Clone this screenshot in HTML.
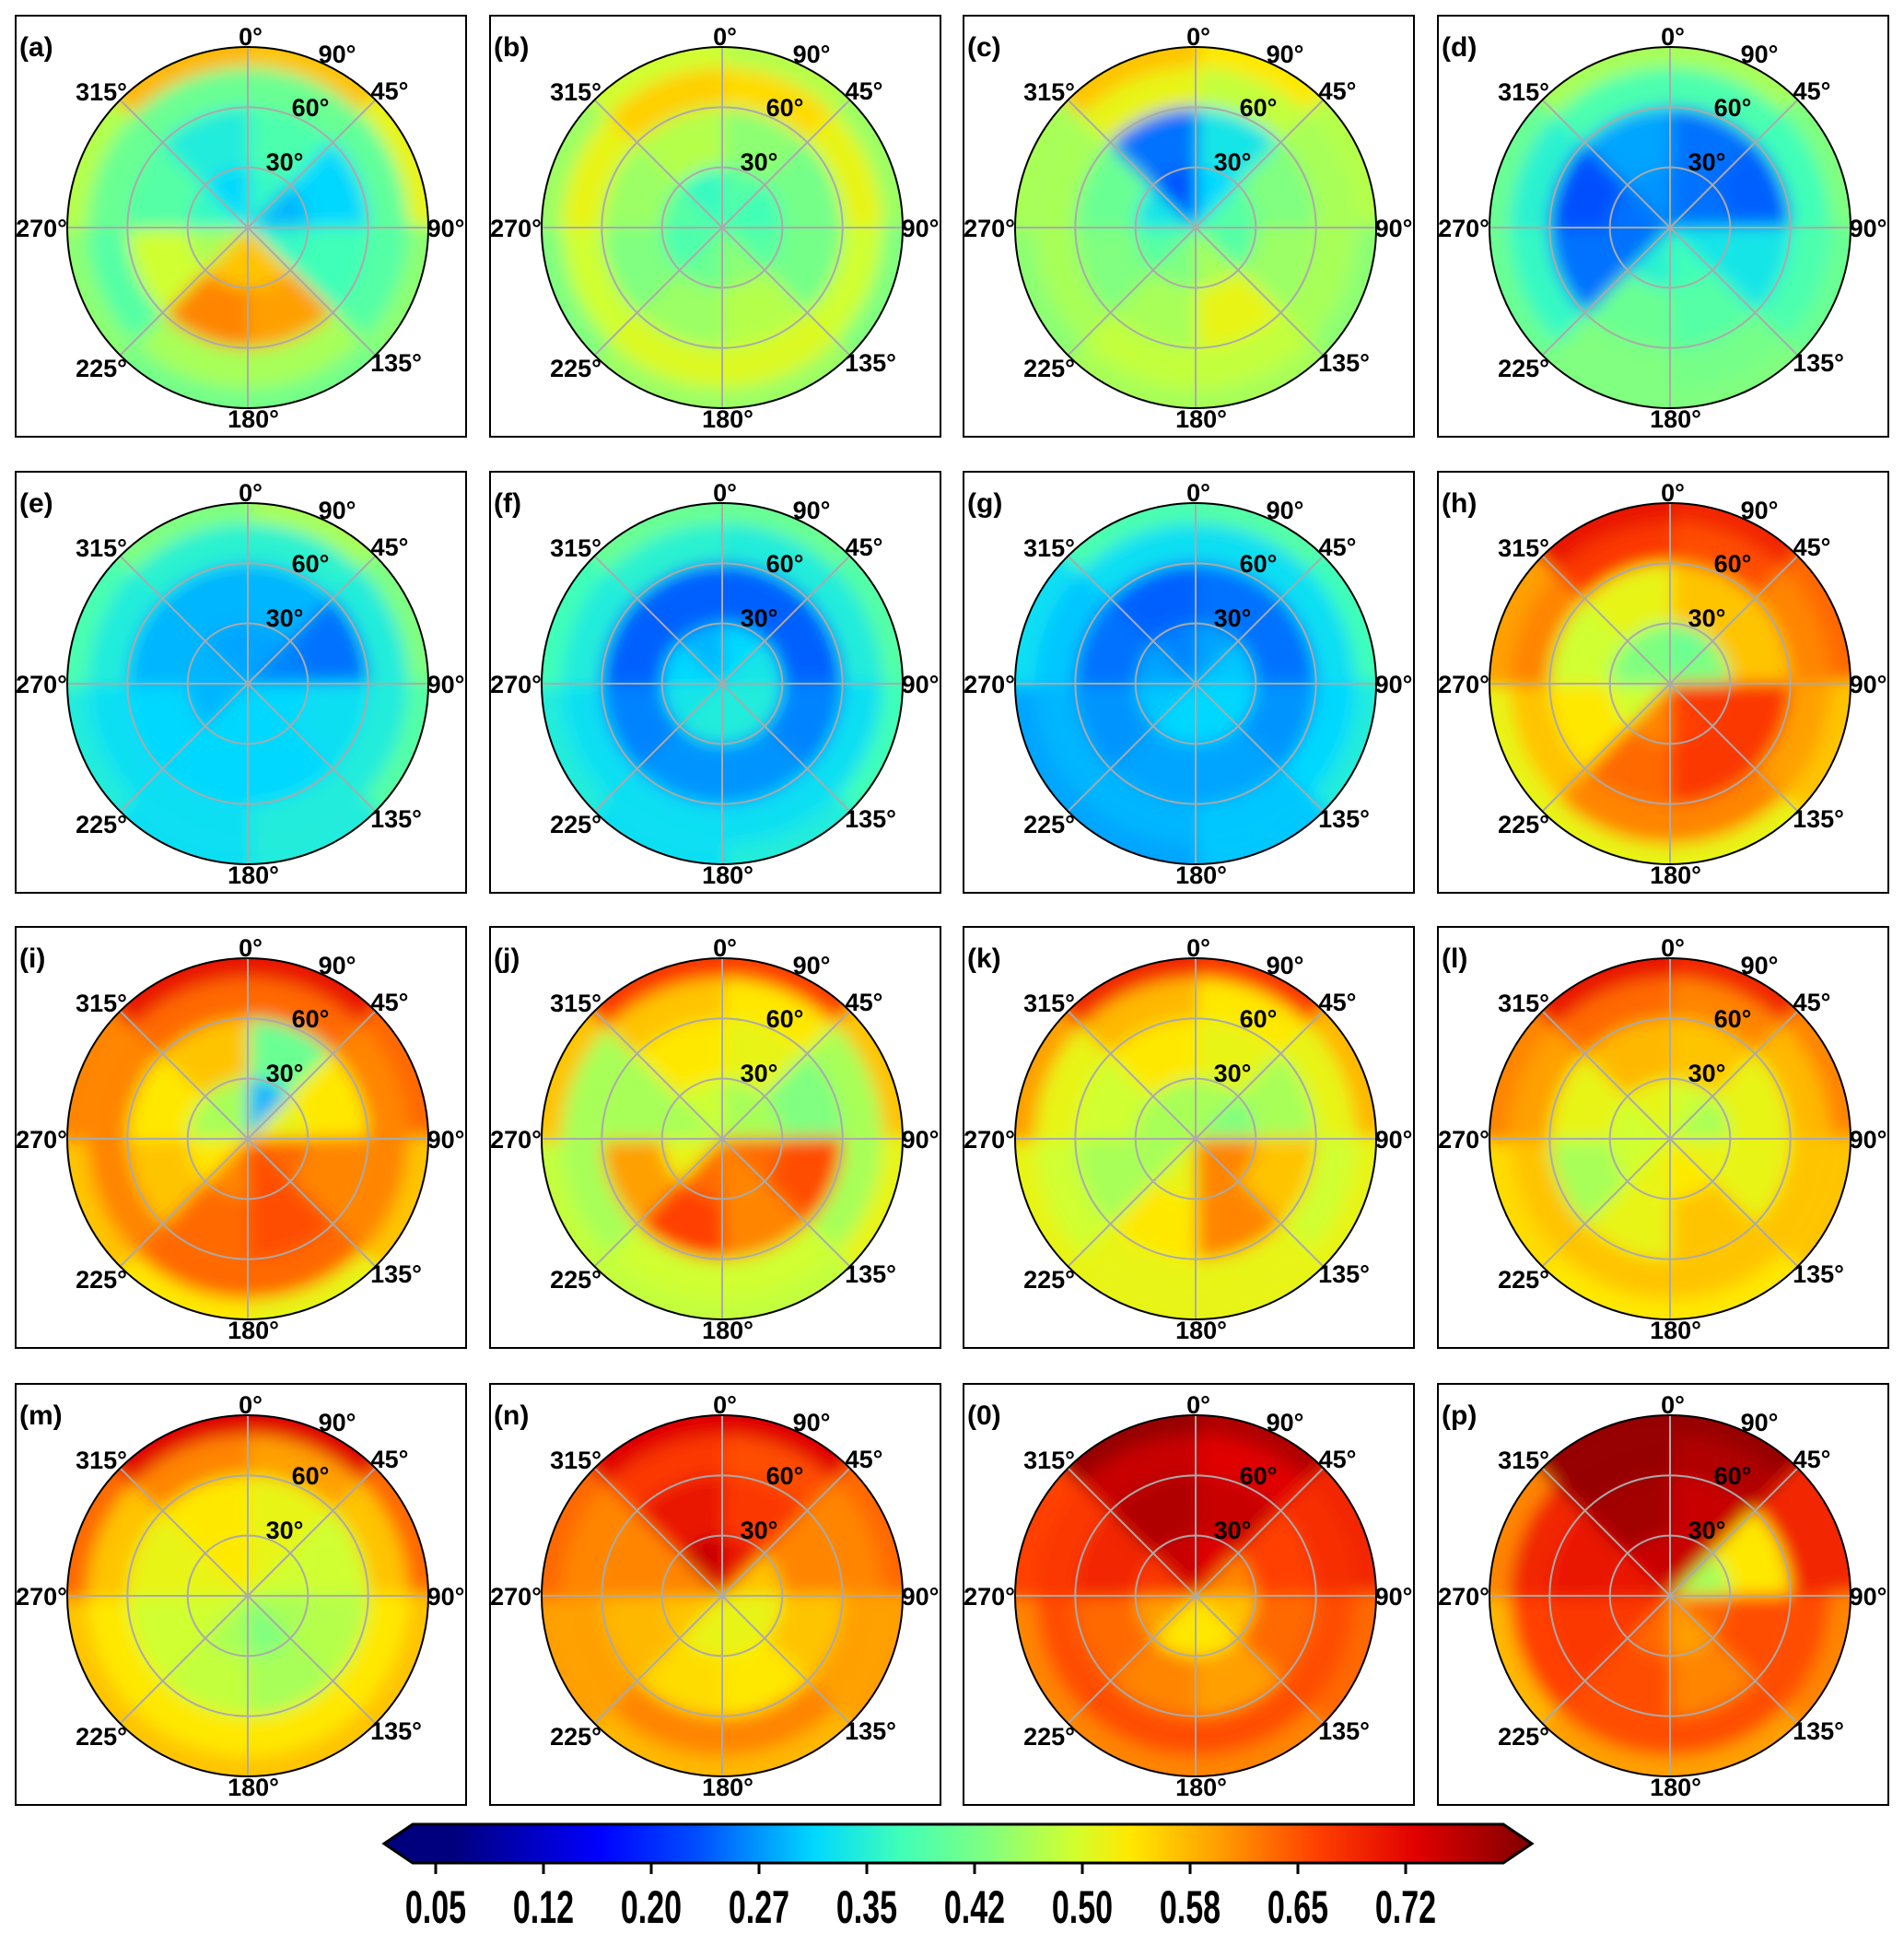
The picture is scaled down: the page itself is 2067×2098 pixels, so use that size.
<!DOCTYPE html>
<html><head><meta charset="utf-8"><style>
html,body{margin:0;padding:0;background:#fff}
svg{display:block}
text{font-family:"Liberation Sans",sans-serif;font-weight:bold;fill:#000}
</style></head><body>
<svg id="fig" width="2067" height="2098" viewBox="0 0 2067 2098" xmlns="http://www.w3.org/2000/svg">
<defs><filter id="bl" x="-20%" y="-20%" width="140%" height="140%"><feGaussianBlur stdDeviation="9"/></filter>
<linearGradient id="cbg" x1="0" x2="1" y1="0" y2="0"></linearGradient></defs>
<g id="panels"></g>
<g id="cbar"></g>
</svg>
<script>
// panel labels
const panelLabels = ['a','b','c','d','e','f','g','h','i','j','k','l','m','n','0','p'];
// ring boundaries (elevation degrees)
const ringEdges = [0, 30, 60, 80, 90];
// values[panel][ring][sector] sectors: 0-45,45-90,90-135,135-180,180-225,225-270,270-315,315-360
const vA = [[0.35,0.28,0.35,0.55,0.55,0.45,0.35,0.3],[0.37,0.3,0.36,0.58,0.6,0.48,0.38,0.33],[0.4,0.39,0.38,0.45,0.45,0.38,0.4,0.4],[0.55,0.5,0.43,0.41,0.41,0.43,0.46,0.56]];
const vB = [[0.38,0.36,0.38,0.43,0.4,0.37,0.38,0.35],[0.43,0.41,0.41,0.46,0.44,0.42,0.44,0.46],[0.53,0.5,0.48,0.49,0.49,0.48,0.5,0.54],[0.46,0.44,0.42,0.44,0.44,0.42,0.44,0.48]];
const vC = [[0.3,0.38,0.38,0.45,0.42,0.38,0.32,0.22],[0.32,0.42,0.44,0.5,0.45,0.42,0.4,0.24],[0.47,0.45,0.45,0.47,0.47,0.45,0.45,0.5],[0.52,0.46,0.43,0.45,0.45,0.43,0.45,0.55]];
const vD = [[0.24,0.24,0.32,0.36,0.34,0.24,0.24,0.26],[0.24,0.23,0.32,0.38,0.4,0.24,0.22,0.27],[0.37,0.36,0.37,0.41,0.42,0.35,0.34,0.37],[0.45,0.42,0.4,0.42,0.42,0.4,0.4,0.45]];
const vE = [[0.27,0.25,0.3,0.3,0.3,0.28,0.28,0.27],[0.28,0.24,0.31,0.3,0.3,0.3,0.28,0.28],[0.34,0.33,0.33,0.33,0.31,0.31,0.33,0.34],[0.45,0.42,0.38,0.33,0.31,0.33,0.37,0.42]];
const vF = [[0.3,0.32,0.33,0.33,0.33,0.32,0.3,0.28],[0.23,0.23,0.25,0.26,0.26,0.25,0.23,0.23],[0.33,0.33,0.31,0.31,0.31,0.31,0.33,0.34],[0.4,0.38,0.36,0.33,0.31,0.33,0.36,0.4]];
const vG = [[0.27,0.29,0.3,0.3,0.3,0.29,0.27,0.25],[0.24,0.24,0.26,0.27,0.27,0.26,0.24,0.23],[0.31,0.31,0.3,0.29,0.28,0.28,0.29,0.31],[0.38,0.36,0.33,0.29,0.27,0.27,0.31,0.37]];
const vH = [[0.4,0.42,0.66,0.65,0.6,0.48,0.42,0.42],[0.55,0.55,0.66,0.66,0.62,0.52,0.48,0.5],[0.64,0.6,0.58,0.6,0.6,0.55,0.6,0.66],[0.68,0.62,0.55,0.5,0.5,0.5,0.58,0.7]];
const vI = [[0.28,0.5,0.62,0.64,0.6,0.52,0.45,0.45],[0.4,0.52,0.6,0.64,0.62,0.55,0.52,0.55],[0.62,0.6,0.6,0.62,0.62,0.6,0.6,0.62],[0.7,0.62,0.55,0.5,0.52,0.55,0.6,0.7]];
const vJ = [[0.45,0.45,0.62,0.6,0.62,0.5,0.45,0.48],[0.5,0.42,0.64,0.6,0.65,0.58,0.45,0.52],[0.52,0.45,0.45,0.48,0.48,0.45,0.45,0.55],[0.65,0.55,0.5,0.47,0.47,0.47,0.55,0.66]];
const vK = [[0.45,0.42,0.6,0.6,0.5,0.45,0.45,0.45],[0.5,0.45,0.55,0.6,0.52,0.45,0.48,0.52],[0.52,0.5,0.48,0.5,0.5,0.48,0.5,0.56],[0.66,0.56,0.5,0.5,0.5,0.5,0.58,0.68]];
const vL = [[0.48,0.45,0.5,0.52,0.5,0.48,0.48,0.5],[0.55,0.5,0.5,0.55,0.5,0.45,0.5,0.56],[0.6,0.56,0.55,0.55,0.55,0.55,0.58,0.62],[0.68,0.6,0.55,0.52,0.52,0.53,0.6,0.7]];
const vM = [[0.5,0.48,0.45,0.42,0.45,0.48,0.5,0.52],[0.5,0.48,0.46,0.45,0.47,0.48,0.5,0.52],[0.58,0.55,0.52,0.52,0.52,0.52,0.55,0.6],[0.72,0.62,0.55,0.55,0.55,0.55,0.62,0.72]];
const vN = [[0.7,0.55,0.5,0.5,0.5,0.55,0.6,0.74],[0.66,0.6,0.55,0.52,0.53,0.56,0.6,0.7],[0.64,0.6,0.58,0.6,0.6,0.58,0.6,0.66],[0.72,0.62,0.58,0.56,0.56,0.58,0.62,0.72]];
const vO = [[0.72,0.6,0.55,0.52,0.52,0.58,0.66,0.74],[0.74,0.65,0.62,0.58,0.6,0.62,0.68,0.76],[0.72,0.67,0.64,0.64,0.64,0.64,0.66,0.74],[0.76,0.68,0.62,0.6,0.6,0.6,0.65,0.78]];
const vP = [[0.74,0.45,0.62,0.58,0.62,0.66,0.7,0.74],[0.74,0.52,0.64,0.6,0.64,0.66,0.7,0.77],[0.76,0.68,0.64,0.64,0.64,0.65,0.68,0.78],[0.78,0.68,0.6,0.58,0.58,0.56,0.6,0.78]];
const panelValues = [vA,vB,vC,vD,vE,vF,vG,vH,vI,vJ,vK,vL,vM,vN,vO,vP];
// colormap stops (value, colour)
const cmapVals = [0.05,0.15,0.22,0.30,0.36,0.42,0.48,0.52,0.58,0.65,0.72,0.80];
const cmapCols = ['#00007f','#0000ff','#0050ff','#00d8ff','#40ffb8','#80ff80','#d0ff30','#ffe800','#ffa000','#ff4000','#e00000','#7f0000'];
const cbTicks = ['0.05','0.12','0.20','0.27','0.35','0.42','0.50','0.58','0.65','0.72'];

const NS='http://www.w3.org/2000/svg';
function mk(t,a,p){const e=document.createElementNS(NS,t);for(const k in a)e.setAttribute(k,a[k]);if(p)p.appendChild(e);return e;}
function hex(h){return [parseInt(h.substr(1,2),16),parseInt(h.substr(3,2),16),parseInt(h.substr(5,2),16)];}
function cmap(v){
  if(v<=cmapVals[0])return cmapCols[0];
  for(let i=1;i<cmapVals.length;i++){if(v<=cmapVals[i]){const t=(v-cmapVals[i-1])/(cmapVals[i]-cmapVals[i-1]);const a=hex(cmapCols[i-1]),b=hex(cmapCols[i]);return 'rgb('+a.map((x,j)=>Math.round(x+(b[j]-x)*t)).join(',')+')';}}
  return cmapCols[cmapCols.length-1];
}
const R=196;
function rScale(el){return el/90*R;}
function pt(cx,cy,r,az){const a=az*Math.PI/180;return [cx+r*Math.sin(a),cy-r*Math.cos(a)];}

const colsX=[17,532,1046,1561], rowsY=[17,512,1006,1502], PW=489, PH=457;
const panels=document.getElementById('panels');
panelValues.forEach((vals,pi)=>{
  const x0=colsX[pi%4], y0=rowsY[Math.floor(pi/4)];
  const cx=x0+252, cy=y0+230;
  const g=mk('g',{},panels);
  
  
  const fr=mk('rect',{x:x0,y:y0,width:PW,height:PH,fill:'#fff',stroke:'#000','stroke-width':2},g);
  
  
  const cp=mk('clipPath',{id:'cp'+pi},g);
  mk('circle',{cx:cx,cy:cy,r:R},cp);
  const clipG=mk('g',{'clip-path':'url(#cp'+pi+')'},g);
  const hm=mk('g',{filter:'url(#bl)'},clipG);
  
  
  const nS=vals[0].length, step=360/nS;
  vals.forEach((ring,ri)=>{
    const r1=rScale(ringEdges[ri]), r2=ri===vals.length-1?R+30:rScale(ringEdges[ri+1]);
    ring.forEach((v,si)=>{
      const a1=si*step-1, a2=(si+1)*step+1;
      const p1=pt(cx,cy,r1,a1),p2=pt(cx,cy,r2,a1),p3=pt(cx,cy,r2,a2),p4=pt(cx,cy,r1,a2);
      const d=`M${p1}L${p2}A${r2},${r2} 0 0 1 ${p3}L${p4}`+(r1>0?`A${r1},${r1} 0 0 0 ${p1}`:'')+'Z';
      const c=mk('path',{d:d,fill:cmap(v)},hm);
      
      
    });
  });
  [30,60].forEach(e=>{const c=mk('circle',{cx:cx,cy:cy,r:rScale(e),fill:'none',stroke:'#aaa','stroke-width':2},g);
    
    });
  for(let az=0;az<360;az+=45){const p=pt(cx,cy,R,az);const l=mk('line',{x1:cx,y1:cy,x2:p[0],y2:p[1],stroke:'#aaa','stroke-width':2},g);
    
    }
  const oc=mk('circle',{cx:cx,cy:cy,r:R,fill:'none',stroke:'#000','stroke-width':2},g);
  
  
  const labs=[['0°',3,-208],['90°',97,-189],['315°',-159,-148],['45°',154,-149],['60°',68,-131],['30°',40,-72],['270°',-224,0],['90°',215,0],['225°',-159,152],['135°',161,146],['180°',6,207]];
  labs.forEach(L=>{const t=mk('text',{x:cx+L[1],y:cy+L[2]+10,'text-anchor':'middle','font-size':27},g);t.textContent=L[0];
    
    });
  const pl=mk('text',{x:x0+4,y:y0+44,'font-size':30},g);pl.textContent='('+panelLabels[pi]+')';
  
  
});

// colorbar
const grad=document.getElementById('cbg');
const bx0=448,bx1=1632,by0=1980,by1=2022,tip0=417,tip1=1663;
const vmin=0.0,vmax=0.80;
cmapVals.forEach((v,i)=>{mk('stop',{offset:((v-vmin)/(vmax-vmin)),'stop-color':cmapCols[i]},grad);});
const cb=document.getElementById('cbar');
const poly=mk('polygon',{points:`${tip0},${(by0+by1)/2} ${bx0},${by0} ${bx1},${by0} ${tip1},${(by0+by1)/2} ${bx1},${by1} ${bx0},${by1}`,fill:'url(#cbg)',stroke:'#000','stroke-width':3},cb);


const tickX0=473,tickX1=1526;
cbTicks.forEach((t,i)=>{const x=tickX0+i*(tickX1-tickX0)/(cbTicks.length-1);
  const l=mk('line',{x1:x,y1:by1,x2:x,y2:by1+12,stroke:'#000','stroke-width':3},cb);
  
  
  const tx=mk('text',{x:x,y:2087,'text-anchor':'middle','font-size':50,transform:`translate(${x},0) scale(0.68,1) translate(${-x},0)`},cb);tx.textContent=t;
  
  
});
</script>
</body></html>
